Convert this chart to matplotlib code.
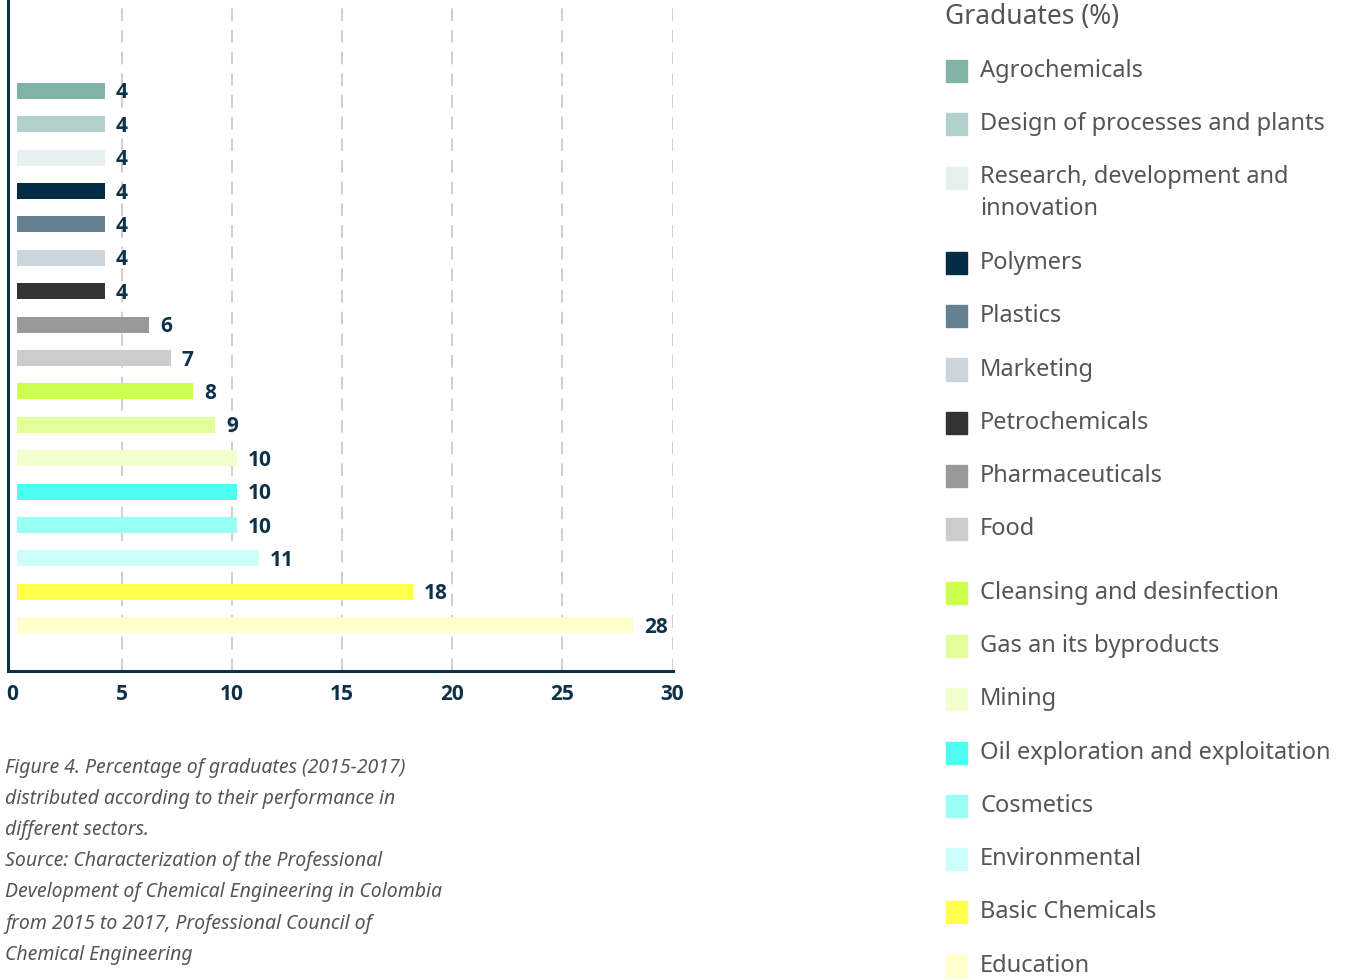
import matplotlib
matplotlib.use("Agg")
import matplotlib.pyplot as plt
from matplotlib.patches import Rectangle

categories = ["Agrochemicals", "Design of processes and plants",
              "Research, development and\ninnovation", "Polymers", "Plastics",
              "Marketing", "Petrochemicals", "Pharmaceuticals", "Food",
              "Cleansing and desinfection", "Gas an its byproducts", "Mining",
              "Oil exploration and exploitation", "Cosmetics", "Environmental",
              "Basic Chemicals", "Education"]
values = [4, 4, 4, 4, 4, 4, 4, 6, 7, 8, 9, 10, 10, 10, 11, 18, 28]
colors = ["#80b3a6", "#b3d1cc", "#e6f0ee", "#032d45", "#668091", "#ccd5dc",
          "#333333", "#999999", "#cccccc", "#ccff4d", "#e0ff99", "#f0ffcc",
          "#4dfff0", "#99fff5", "#ccfffa", "#ffff4d", "#ffffcc"]
x_ticks = [0, 5, 10, 15, 20, 25, 30]
legend_title = "Graduates (%)"
caption = ("Figure 4. Percentage of graduates (2015-2017)\n"
           "distributed according to their performance in\n"
           "different sectors.\n"
           "Source: Characterization of the Professional\n"
           "Development of Chemical Engineering in Colombia\n"
           "from 2015 to 2017, Professional Council of\n"
           "Chemical Engineering")

NAVY = "#0d3149"
FONT = "Noto Sans"
BOLD = "Open Sans"
W, H = 1356, 980
fig = plt.figure(figsize=(W / 100, H / 100), dpi=100)
ax = fig.add_axes([8 / W, 1 - 671 / H, (673 - 8) / W, 671 / H])

pos = list(range(len(values)))
bar_start = 0.22
ax.barh(pos, values, left=bar_start, height=0.48, color=colors, zorder=3)
ax.set_xlim(-0.17, 30.02)
ax.set_ylim(17.37, -2.72)

for y, v in zip(pos, values):
    ax.annotate(f"{v}", (v + bar_start, y), xytext=(8, -1.5),
                textcoords="offset points", ha="left", va="center",
                fontsize=15, fontweight="bold", color=NAVY, family=BOLD,
                zorder=4)

ax.set_xticks(x_ticks)
ax.set_xticklabels([str(t) for t in x_ticks], fontsize=15, fontweight="bold",
                   color=NAVY, family=BOLD)
ax.tick_params(axis="x", length=0, pad=9)
ax.set_yticks([])
for t in x_ticks[1:]:
    ax.axvline(t, color="#cccccc", lw=1.3, ls=(0, (7, 5)), zorder=1)
for s in ["top", "right"]:
    ax.spines[s].set_visible(False)
for s in ["left", "bottom"]:
    ax.spines[s].set_color(NAVY)
    ax.spines[s].set_linewidth(2.2)

# legend
fig.text(945 / W, 1 - 17 / H, legend_title, fontsize=19, color="#555555",
         family=FONT, ha="left", va="center")
y = 71
for name, c in zip(categories, colors):
    multi = "\n" in name
    fig.patches.append(Rectangle((946 / W, 1 - (y + 11) / H), 21 / W, 22 / H,
                                 transform=fig.transFigure, color=c))
    if multi:
        fig.text(980 / W, 1 - (y - 13) / H, name, fontsize=17,
                 color="#555555", family=FONT, ha="left", va="top",
                 linespacing=1.48)
    else:
        fig.text(980 / W, 1 - y / H, name, fontsize=17, color="#555555",
                 family=FONT, ha="left", va="center")
    step = 53.3
    if multi:
        step += 32
    if name == "Food":
        step += 10
    y += step

fig.text(5 / W, 1 - 758 / H, caption, fontsize=14, style="italic",
         color="#555555", family=FONT, ha="left", va="top", linespacing=1.74)

fig.savefig("out.png", dpi=100)
